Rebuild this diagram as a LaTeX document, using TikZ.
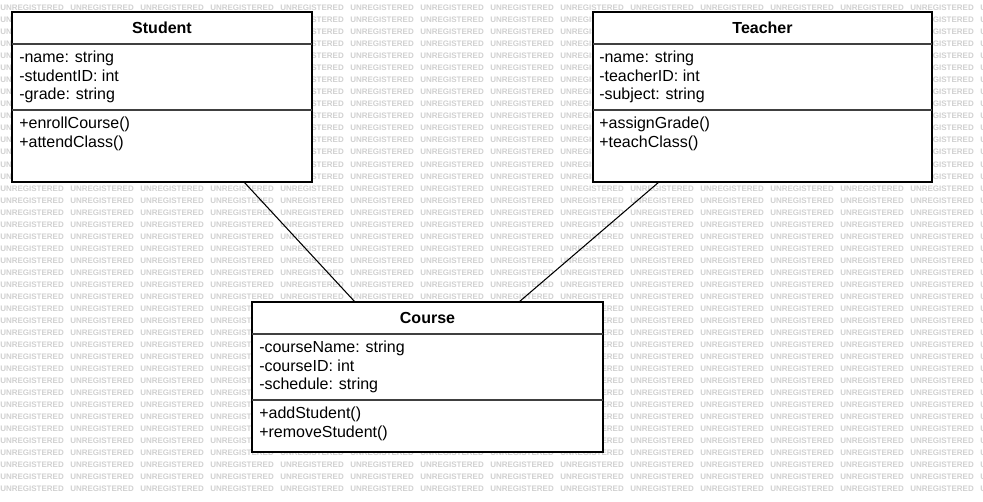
\documentclass[tikz,border=0pt]{standalone}
\usepackage{fontspec}
\setmainfont{Liberation Sans}
\usetikzlibrary{positioning}
\begin{document}
\begin{tikzpicture}[x=0.75pt,y=-0.75pt,
  umlbox/.style={draw=black,line width=1pt,fill=white,rectangle,anchor=north west,inner sep=0pt,outer sep=0pt},
  umltitle/.style={anchor=base,inner sep=0pt,font=\fontsize{12}{14}\selectfont\bfseries},
  member/.style={anchor=base west,inner sep=0pt,font=\fontsize{12}{14}\selectfont},
  sepline/.style={draw=black!75,line width=1.1pt},
  assoc/.style={draw=black,line width=0.8pt},
  watermark/.style={anchor=west,inner sep=0pt,text=black!18,font=\fontsize{6}{6}\selectfont\bfseries}]
  % frame
  \useasboundingbox (0,0) rectangle (983,502);
  \fill[white] (0,0) rectangle (983,502);
  % watermark
  \begin{scope}
    \clip (0,0) rectangle (983,502);
    \foreach \k in {0,...,40}
      \foreach \j in {0,...,14}
        \node[watermark] (wm-\k-\j) at (70*\j,8+12.02*\k) {UNREGISTERED};
  \end{scope}
  % classes
  \node[umlbox,minimum width=225pt,minimum height=127.5pt] (student) at (12,12) {};
  \node[umlbox,minimum width=254.25pt,minimum height=127.5pt] (teacher) at (593,12) {};
  \node[umlbox,minimum width=263.25pt,minimum height=112.5pt] (course) at (252,302) {};
  % separators
  \draw[sepline] (12,44) -- (312,44);
  \draw[sepline] (12,110) -- (312,110);
  \draw[sepline] (593,44) -- (932,44);
  \draw[sepline] (593,110) -- (932,110);
  \draw[sepline] (252,334) -- (603,334);
  \draw[sepline] (252,400) -- (603,400);
  % titles
  \node[umltitle] (student-t) at (162,33.7) {Student};
  \node[umltitle] (teacher-t) at (762.5,33.7) {Teacher};
  \node[umltitle] (course-t) at (427.5,323.7) {Course};
  % members
  \foreach \t [count=\i] in {-name: string,-studentID: int,-grade: string}
    \node[member] (student-a\i) at (19,44.5+18.5*\i) {\t};
  \foreach \t [count=\i] in {+enrollCourse(),+attendClass()}
    \node[member] (student-m\i) at (19,110.5+18.5*\i) {\t};
  \foreach \t [count=\i] in {-name: string,-teacherID: int,-subject: string}
    \node[member] (teacher-a\i) at (599,44.5+18.5*\i) {\t};
  \foreach \t [count=\i] in {+assignGrade(),+teachClass()}
    \node[member] (teacher-m\i) at (599,110.5+18.5*\i) {\t};
  \foreach \t [count=\i] in {-courseName: string,-courseID: int,-schedule: string}
    \node[member] (course-a\i) at (259,334.5+18.5*\i) {\t};
  \foreach \t [count=\i] in {+addStudent(),+removeStudent()}
    \node[member] (course-m\i) at (259,400.5+18.5*\i) {\t};
  % associations
  \draw[assoc] ([xshift=174pt]student.south west) -- ([xshift=77.25pt]course.north west);
  \draw[assoc] ([xshift=49.5pt]teacher.south west) -- ([xshift=200.25pt]course.north west);
\end{tikzpicture}
\end{document}
